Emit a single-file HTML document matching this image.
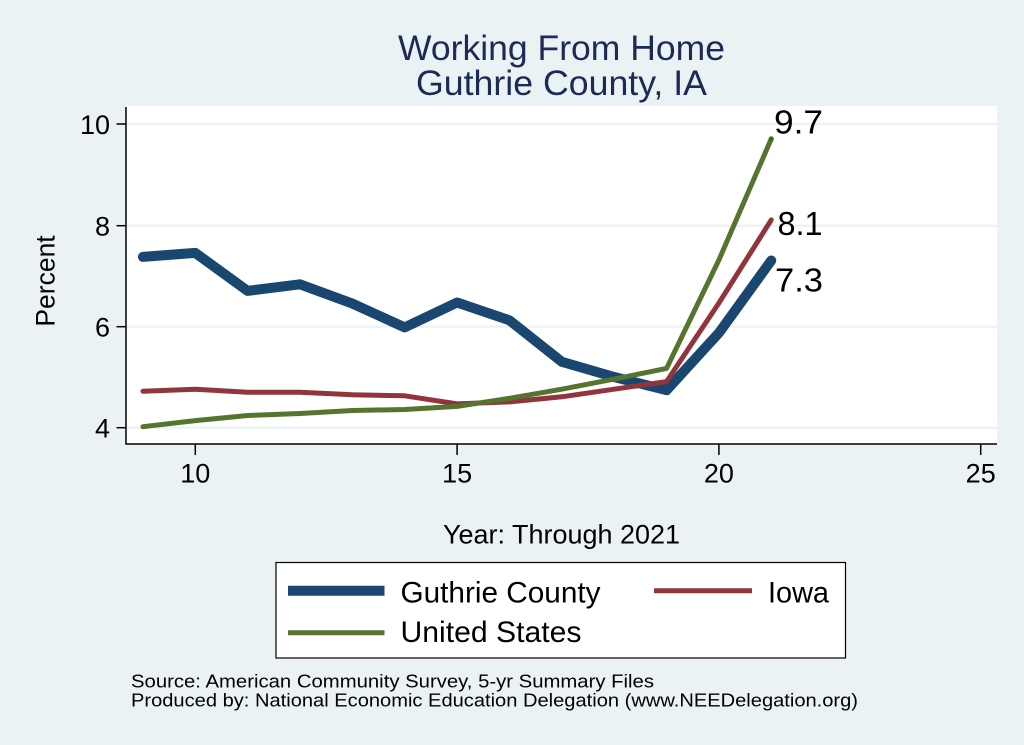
<!DOCTYPE html>
<html>
<head>
<meta charset="utf-8">
<style>
html,body{margin:0;padding:0;background:#eaf2f3;}
svg{display:block;}
text{font-family:"Liberation Sans",Arial,sans-serif;}
</style>
</head>
<body>
<svg width="1024" height="745" viewBox="0 0 1024 745" xmlns="http://www.w3.org/2000/svg">
  <rect x="0" y="0" width="1024" height="745" fill="#eaf2f3"/>
  <!-- plot region -->
  <rect x="126" y="106" width="871" height="338" fill="#ffffff"/>
  <!-- gridlines -->
  <g stroke="#eaf2f3" stroke-width="2.2">
    <line x1="127" y1="124" x2="997" y2="124"/>
    <line x1="127" y1="225.7" x2="997" y2="225.7"/>
    <line x1="127" y1="326.7" x2="997" y2="326.7"/>
    <line x1="127" y1="427.7" x2="997" y2="427.7"/>
  </g>
  <!-- axes -->
  <g stroke="#000" stroke-width="1.5" fill="none">
    <line x1="126" y1="107" x2="126" y2="444.5"/>
    <line x1="125.5" y1="444" x2="997" y2="444"/>
    <line x1="116.5" y1="124" x2="126" y2="124"/>
    <line x1="116.5" y1="225.7" x2="126" y2="225.7"/>
    <line x1="116.5" y1="326.7" x2="126" y2="326.7"/>
    <line x1="116.5" y1="427.7" x2="126" y2="427.7"/>
    <line x1="195.3" y1="444" x2="195.3" y2="455"/>
    <line x1="457.1" y1="444" x2="457.1" y2="455"/>
    <line x1="718.9" y1="444" x2="718.9" y2="455"/>
    <line x1="980.7" y1="444" x2="980.7" y2="455"/>
  </g>
  <!-- y tick labels -->
  <g font-size="27" fill="#000" text-anchor="end">
    <text x="110" y="134">10</text>
    <text x="110" y="235.5">8</text>
    <text x="110" y="336.5">6</text>
    <text x="110" y="437.5">4</text>
  </g>
  <!-- x tick labels -->
  <g font-size="27" fill="#000" text-anchor="middle">
    <text x="195.3" y="482.5">10</text>
    <text x="457.1" y="482.5">15</text>
    <text x="718.9" y="482.5">20</text>
    <text x="980.7" y="482.5">25</text>
  </g>
  <!-- axis titles -->
  <text x="443" y="543.3" font-size="26.5" fill="#000" textLength="237" lengthAdjust="spacingAndGlyphs">Year: Through 2021</text>
  <text transform="translate(54.3,281) rotate(-90)" font-size="26.5" text-anchor="middle" fill="#000">Percent</text>
  <!-- title -->
  <text x="398" y="60" font-size="35" fill="#1c2a56" textLength="327" lengthAdjust="spacingAndGlyphs">Working From Home</text>
  <text x="416" y="95" font-size="35" fill="#1c2a56" textLength="291" lengthAdjust="spacingAndGlyphs">Guthrie County, IA</text>
  <!-- series -->
  <polyline fill="none" stroke="#1a476f" stroke-width="10" stroke-linecap="round" stroke-linejoin="round"
    points="142.94,256.9 195.3,252.9 247.66,290.9 300.02,284.3 352.38,303.6 404.74,327.4 457.1,302.5 509.46,320.3 561.82,361.8 614.18,377.0 666.54,390.2 718.9,332.9 771.26,260.5"/>
  <polyline fill="none" stroke="#90353b" stroke-width="5" stroke-linecap="round" stroke-linejoin="round"
    points="142.94,391.2 195.3,389.2 247.66,392.2 300.02,392.2 352.38,394.8 404.74,395.8 457.1,403.9 509.46,401.9 561.82,396.8 614.18,389.2 666.54,381.6 718.9,303.0 771.26,219.9"/>
  <polyline fill="none" stroke="#55752f" stroke-width="5" stroke-linecap="round" stroke-linejoin="round"
    points="142.94,426.7 195.3,420.6 247.66,415.5 300.02,413.5 352.38,410.5 404.74,409.5 457.1,406.4 509.46,398.3 561.82,389.2 614.18,379.1 666.54,368.4 718.9,260.0 771.26,138.9"/>
  <circle cx="771.26" cy="138.9" r="2.5" fill="#1f7a1f"/>
  <!-- end labels -->
  <g font-size="33" fill="#000">
    <text x="774" y="133.3" textLength="49" lengthAdjust="spacingAndGlyphs">9.7</text>
    <text x="777.5" y="235" textLength="45" lengthAdjust="spacingAndGlyphs">8.1</text>
    <text x="775" y="291.7" textLength="48" lengthAdjust="spacingAndGlyphs">7.3</text>
  </g>
  <!-- legend -->
  <rect x="276" y="562.5" width="569.5" height="95.5" fill="#ffffff" stroke="#000" stroke-width="1.2"/>
  <line x1="288" y1="590.7" x2="384.5" y2="590.7" stroke="#1a476f" stroke-width="10"/>
  <line x1="654" y1="590.7" x2="752" y2="590.7" stroke="#90353b" stroke-width="5"/>
  <line x1="288" y1="632.7" x2="384.5" y2="632.7" stroke="#55752f" stroke-width="5"/>
  <g font-size="29.5" fill="#000">
    <text x="400.5" y="602.3" textLength="200" lengthAdjust="spacingAndGlyphs">Guthrie County</text>
    <text x="768" y="602.3" textLength="61" lengthAdjust="spacingAndGlyphs">Iowa</text>
    <text x="400.5" y="642" textLength="181" lengthAdjust="spacingAndGlyphs">United States</text>
  </g>
  <!-- notes -->
  <g font-size="18" fill="#000">
    <text x="131" y="687.3" textLength="523" lengthAdjust="spacingAndGlyphs">Source: American Community Survey, 5-yr Summary Files</text>
    <text x="131" y="706.7" textLength="727" lengthAdjust="spacingAndGlyphs">Produced by: National Economic Education Delegation (www.NEEDelegation.org)</text>
  </g>
</svg>
</body>
</html>
